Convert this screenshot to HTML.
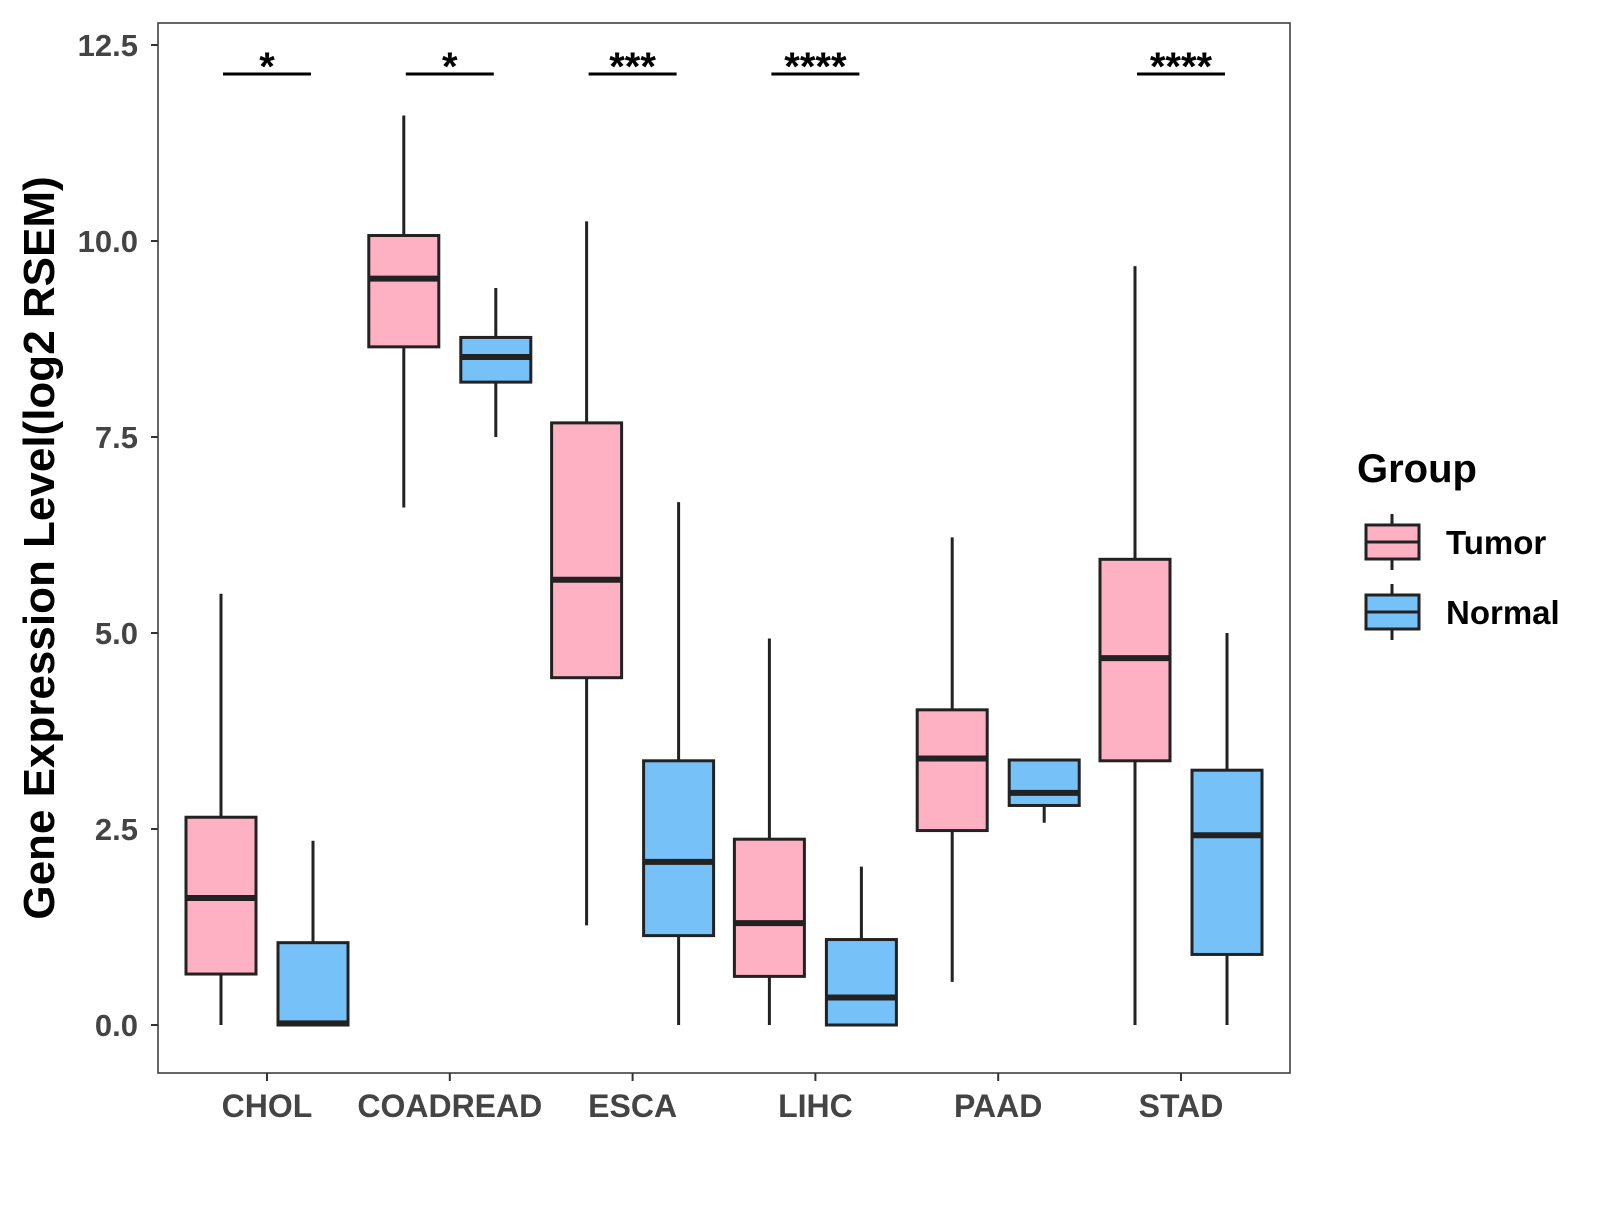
<!DOCTYPE html>
<html><head><meta charset="utf-8"><style>
body{margin:0;background:#fff}
svg text{font-family:"Liberation Sans",Arial,sans-serif;font-weight:bold}
</style></head><body>
<svg id="chart" width="1600" height="1200" xmlns="http://www.w3.org/2000/svg">
<rect x="0" y="0" width="1600" height="1200" fill="#fff"/>
<g id="plot"></g>
</svg>
<script>
const categories=["CHOL","COADREAD","ESCA","LIHC","PAAD","STAD"];
const tumorStats=[[0,0.65,1.62,2.65,5.5],[6.6,8.65,9.52,10.07,11.6],[1.27,4.43,5.68,7.68,10.25],[0,0.62,1.3,2.37,4.93],[0.55,2.48,3.4,4.02,6.22],[0,3.37,4.68,5.94,9.68]];
const normalStats=[[0,0,0.02,1.05,2.35],[7.5,8.2,8.52,8.77,9.4],[0,1.14,2.08,3.37,6.67],[0,0,0.35,1.09,2.02],[2.58,2.8,2.96,3.38,3.38],[0,0.9,2.42,3.25,5.0]];
const signif=["*","*","***","****","","****"];
const yTicks=[0,2.5,5,7.5,10,12.5];
const yTickLabels=["0.0","2.5","5.0","7.5","10.0","12.5"];
const legendLabels=["Tumor","Normal"];

const NS="http://www.w3.org/2000/svg";
const g=document.getElementById('plot');
const L=158,R=1290,T=23,B=1073;
const y=v=>1025-v*78.4;
const x=i=>267+i*182.8;
function el(t,a,p){const e=document.createElementNS(NS,t);for(const k in a)e.setAttribute(k,a[k]);(p||g).appendChild(e);return e;}
const fills=["#FDB1C2","#76C1F8"];
const frame=el('rect',{x:L,y:T,width:R-L,height:B-T,fill:'none',stroke:'#333','stroke-width':1.5});


yTicks.forEach((v,i)=>{
 const t=el('line',{x1:L-7,x2:L,y1:y(v),y2:y(v),stroke:'#333','stroke-width':2});
 
 
 const lb=el('text',{x:L-20,y:y(v)+11,'text-anchor':'end','font-size':31,fill:'#444'});
 lb.textContent=yTickLabels[i];
 
 
});
function box(cx,s,fill,name){
 const w=70;
 const gg=el('g',{});
 
 
 el('line',{x1:cx,x2:cx,y1:y(s[0]),y2:y(s[4]),stroke:'#222','stroke-width':3},gg);
 el('rect',{x:cx-w/2,y:y(s[3]),width:w,height:Math.max(y(s[1])-y(s[3]),1),fill:fill,stroke:'#222','stroke-width':3},gg);
 el('line',{x1:cx-w/2,x2:cx+w/2,y1:y(s[2]),y2:y(s[2]),stroke:'#222','stroke-width':6},gg);
}
categories.forEach((c,i)=>{
 box(x(i)-46,tumorStats[i],fills[0],'box-tumor-'+c.toLowerCase());
 box(x(i)+46,normalStats[i],fills[1],'box-normal-'+c.toLowerCase());
 const t=el('line',{x1:x(i),x2:x(i),y1:B,y2:B+8,stroke:'#333','stroke-width':2});
 
 
 const lb=el('text',{x:x(i),y:1117,'text-anchor':'middle','font-size':32,fill:'#444'});
 lb.textContent=c;
 
 
 if(signif[i]){
  const br=el('line',{x1:x(i)-44,x2:x(i)+44,y1:74,y2:74,stroke:'#000','stroke-width':3});
  
  
  const st=el('text',{x:x(i),y:80,'text-anchor':'middle','font-size':40,fill:'#000'});
  st.textContent=signif[i];
  
  
 }
});
const yt=el('text',{x:0,y:0,transform:'translate(54,548) rotate(-90)','text-anchor':'middle','font-size':44,fill:'#000'});
yt.textContent='Gene Expression Level(log2 RSEM)';


const lt=el('text',{x:1357,y:482,'font-size':40,fill:'#000'});
lt.textContent='Group';


legendLabels.forEach((l,i)=>{
 const cy=542+i*70;
 const lg=el('g',{});
 
 
 el('line',{x1:1392,x2:1392,y1:cy-28,y2:cy+28,stroke:'#222','stroke-width':3},lg);
 el('rect',{x:1366,y:cy-17,width:53,height:34,fill:fills[i],stroke:'#222','stroke-width':3},lg);
 el('line',{x1:1366,x2:1419,y1:cy,y2:cy,stroke:'#222','stroke-width':3},lg);
 const tx=el('text',{x:1446,y:cy+12,'font-size':33,fill:'#000'},lg);
 tx.textContent=l;
});
</script>
</body></html>
